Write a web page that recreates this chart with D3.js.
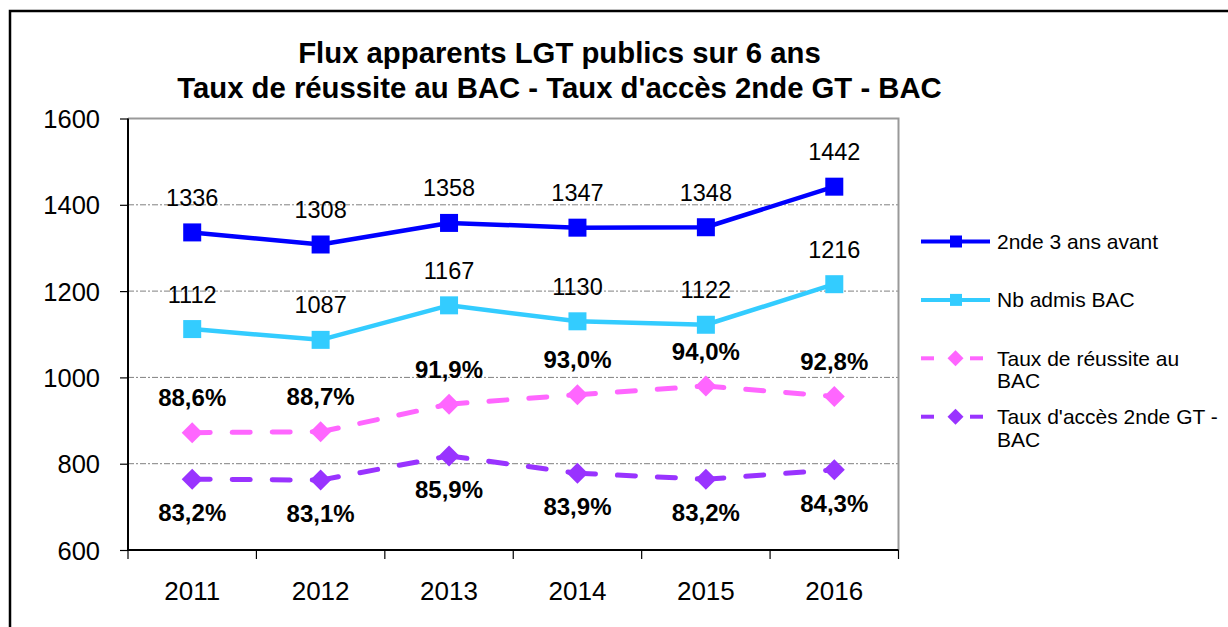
<!DOCTYPE html>
<html><head><meta charset="utf-8">
<script src="https://cdn.jsdelivr.net/npm/d3@7"></script>
<style>html,body{margin:0;padding:0;background:#fff;}svg{display:block;font-family:"Liberation Sans",Arial,sans-serif;}</style>
</head><body>
<svg id="chart" width="1228" height="627"></svg>
<script>
const years = ["2011","2012","2013","2014","2015","2016"];
const seconde = [1336,1308,1358,1347,1348,1442];
const admis = [1112,1087,1167,1130,1122,1216];
const reussite = [88.6,88.7,91.9,93.0,94.0,92.8];
const acces = [83.2,83.1,85.9,83.9,83.2,84.3];
const yTicks = [600,800,1000,1200,1400,1600];
const titleLines = ["Flux apparents LGT publics sur 6 ans","Taux de réussite au BAC - Taux d'accès 2nde GT - BAC"];
const legendLabels = [["2nde 3 ans avant"],["Nb admis BAC"],["Taux de réussite au","BAC"],["Taux d'accès 2nde GT -","BAC"]];

const svg = d3.select("#chart");
const L = 128, R = 898.5, T = 118.5, B = 550;
const x = d3.scaleBand().domain(years).range([L,R]).padding(0);
const y = d3.scaleLinear().domain([600,1600]).range([B,T]);
const y2 = d3.scaleLinear().domain([75,125]).range([B,T]);
const cx = d => x(d) + x.bandwidth()/2;

// outer border
svg.append("rect").attr("x",10).attr("y",11).attr("width",1240).attr("height",640)
  .attr("fill","#fff").attr("stroke","#000").attr("stroke-width",2.5);

// title
const title = svg.append("text").attr("text-anchor","middle").attr("font-weight","bold").attr("font-size",29.3).attr("fill","#000");
titleLines.forEach((t,i)=> title.append("tspan").attr("x",559.5).attr("y",63+i*35).text(t));

// gridlines
svg.append("g").selectAll("line").data(yTicks.filter(v=>v>600 && v<1600)).join("line")
  .attr("x1",L).attr("x2",R).attr("y1",d=>y(d)).attr("y2",d=>y(d))
  .attr("stroke","#808080").attr("stroke-width",1).attr("stroke-dasharray","6,2,2,2");

// plot border top/right
svg.append("path").attr("d",`M${L},${T}H${R}V${B}`).attr("fill","none").attr("stroke","#999").attr("stroke-width",2);

// y axis
const yAxis = d3.axisLeft(y).tickValues(yTicks).tickSize(8).tickPadding(20).tickFormat(d3.format("d"));
const gy = svg.append("g").attr("transform",`translate(${L},0)`).call(yAxis);
gy.select(".domain").attr("stroke","#000").attr("stroke-width",2).attr("d",`M0,${T}V${B}`);
gy.selectAll(".tick line").attr("stroke","#000").attr("stroke-width",1.2);
gy.selectAll(".tick text").attr("font-size",25.5).attr("fill","#000").attr("font-family","Liberation Sans, Arial, sans-serif").attr("dy","0.36em");

// x axis
const xAxis = d3.axisBottom(x).tickSize(0).tickPadding(32);
const gx = svg.append("g").attr("transform",`translate(0,${B})`).call(xAxis);
gx.select(".domain").attr("stroke","#000").attr("stroke-width",2).attr("d",`M${L},0H${R}`);
gx.selectAll(".tick text").attr("font-size",26).attr("fill","#000").attr("font-family","Liberation Sans, Arial, sans-serif");
gx.selectAll(".sep").data(years.concat(["end"])).join("line").attr("class","sep")
  .attr("x1",(d,i)=> i<years.length ? x(d) : R).attr("x2",(d,i)=> i<years.length ? x(d) : R)
  .attr("y1",0).attr("y2",9).attr("stroke","#000").attr("stroke-width",1.2);

const diamond = r => `M0,${-r}L${r},0L0,${r}L${-r},0Z`;

// solid series
function solidSeries(vals, color){
  const pts = vals.map((v,i)=>[cx(years[i]), y(v)]);
  svg.append("path").attr("d",d3.line()(pts)).attr("fill","none").attr("stroke",color).attr("stroke-width",4.5).attr("stroke-linejoin","round");
  svg.append("g").selectAll("rect").data(pts).join("rect")
    .attr("x",d=>d[0]-9).attr("y",d=>d[1]-9).attr("width",18).attr("height",18).attr("fill",color);
  svg.append("g").selectAll("text").data(vals).join("text")
    .attr("x",(d,i)=>cx(years[i])).attr("y",d=>y(d)-26.5).attr("text-anchor","middle")
    .attr("font-size",23.5).attr("fill","#000").text(d=>d);
}
function dashedSeries(vals, color, labelDy){
  const pts = vals.map((v,i)=>[cx(years[i]), y2(v)]);
  const g = svg.append("g");
  for(let i=0;i<pts.length-1;i++){
    g.append("path").attr("d",d3.line()([pts[i],pts[i+1]])).attr("fill","none").attr("stroke",color)
      .attr("stroke-width",5).attr("stroke-linecap","round").attr("stroke-dasharray","18,22");
  }
  svg.append("g").selectAll("path").data(pts).join("path")
    .attr("d",diamond(10.5)).attr("transform",d=>`translate(${d[0]},${d[1]})`).attr("fill",color);
  svg.append("g").selectAll("text").data(vals).join("text")
    .attr("x",(d,i)=>cx(years[i])).attr("y",d=>y2(d)+labelDy).attr("text-anchor","middle")
    .attr("font-size",24).attr("font-weight","bold").attr("fill","#000")
    .text(d=>d.toFixed(1).replace(".",",")+"%");
}
const colors = ["#0000FF","#33CCFF","#FF66FF","#9933FF"];
solidSeries(seconde, colors[0]);
solidSeries(admis, colors[1]);
dashedSeries(reussite, colors[2], -26.5);
dashedSeries(acces, colors[3], 42);

// legend
const lg = svg.append("g");
legendLabels.forEach((lines,i)=>{
  const ly = 241.5 + i*58.4;
  const c = colors[i];
  if(i<2){
    lg.append("line").attr("x1",921).attr("x2",990).attr("y1",ly).attr("y2",ly).attr("stroke",c).attr("stroke-width",4);
    lg.append("rect").attr("x",950).attr("y",ly-6).attr("width",12).attr("height",12).attr("fill",c);
  } else {
    lg.append("line").attr("x1",921).attr("x2",934).attr("y1",ly).attr("y2",ly).attr("stroke",c).attr("stroke-width",4);
    lg.append("line").attr("x1",970).attr("x2",983).attr("y1",ly).attr("y2",ly).attr("stroke",c).attr("stroke-width",4);
    lg.append("path").attr("d",diamond(8)).attr("transform",`translate(955.5,${ly})`).attr("fill",c);
  }
  const t = lg.append("text").attr("font-size",21).attr("fill","#000");
  lines.forEach((s,j)=> t.append("tspan").attr("x",997).attr("y",ly+7.5+j*22.5).text(s));
});
</script>
</body></html>
